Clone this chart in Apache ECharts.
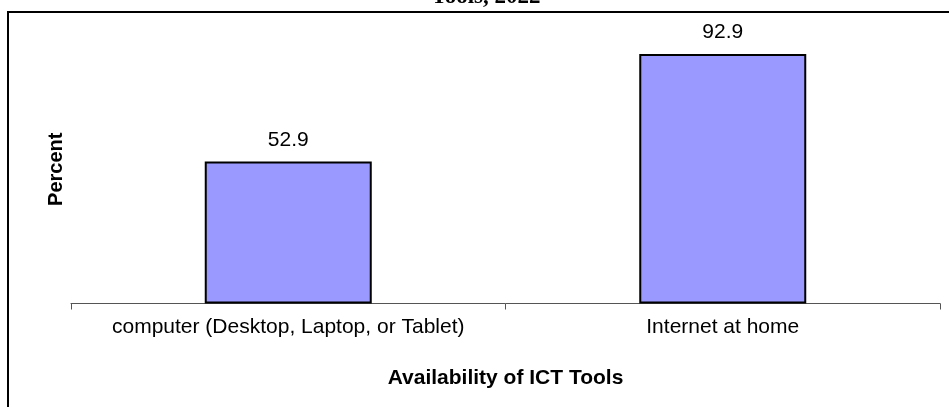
<!DOCTYPE html>
<html>
<head>
<meta charset="utf-8">
<script src="https://cdn.jsdelivr.net/npm/echarts@6/dist/echarts.min.js"></script>
<style>
  html, body { margin: 0; padding: 0; background: #fff; }
  #main { width: 949px; height: 407px; }
</style>
</head>
<body>
<div id="main"></div>
<script>
// 图表数据
var categories = ["computer (Desktop, Laptop, or Tablet)", "Internet at home"];
var percentValues = [52.9, 92.9];
var titleText = "Tools, 2022";

var font = "'Liberation Sans', Arial, sans-serif";

var myChart = echarts.init(document.getElementById('main'));

var option = {
    animation: false,
    backgroundColor: '#ffffff',
    grid: {
        left: 71,
        right: 9,
        top: 35,
        bottom: 103.5
    },
    // 外框和被截掉一半的标题
    graphic: [
        {
            type: 'rect',
            shape: { x: 8, y: 12, width: 1000, height: 500 },
            style: { fill: null, stroke: '#000', lineWidth: 2 },
            silent: true
        },
        {
            type: 'text',
            x: 486,
            y: -3,
            style: {
                text: titleText,
                align: 'center',
                verticalAlign: 'middle',
                font: 'bold 23px "Liberation Serif", "Times New Roman", serif',
                fill: '#000'
            },
            silent: true
        }
    ],
    xAxis: {
        type: 'category',
        data: categories,
        name: 'Availability of ICT Tools',
        nameLocation: 'middle',
        nameGap: 64,
        nameTextStyle: {
            fontFamily: font,
            fontSize: 21,
            fontWeight: 'bold',
            color: '#000'
        },
        axisLine: { lineStyle: { color: '#555', width: 1 } },
        axisTick: { show: true, length: 6, lineStyle: { color: '#555' } },
        axisLabel: {
            fontFamily: font,
            fontSize: 21,
            color: '#000',
            margin: 13,
            interval: 0
        }
    },
    yAxis: {
        type: 'value',
        min: 0,
        max: 100,
        name: 'Percent',
        nameLocation: 'middle',
        nameGap: 5,
        nameTextStyle: {
            fontFamily: font,
            fontSize: 20,
            fontWeight: 'bold',
            color: '#000'
        },
        axisLine: { show: false },
        axisTick: { show: false },
        axisLabel: { show: false },
        splitLine: { show: false }
    },
    series: [{
        type: 'bar',
        data: percentValues,
        barWidth: 167,
        itemStyle: {
            color: '#9999FF',
            borderColor: '#000',
            borderWidth: 2
        },
        label: {
            show: true,
            position: 'top',
            distance: 11,
            fontFamily: font,
            fontSize: 21,
            color: '#000',
            formatter: function (p) { return p.value.toFixed(1); }
        }
    }]
};

myChart.setOption(option);
</script>
</body>
</html>
